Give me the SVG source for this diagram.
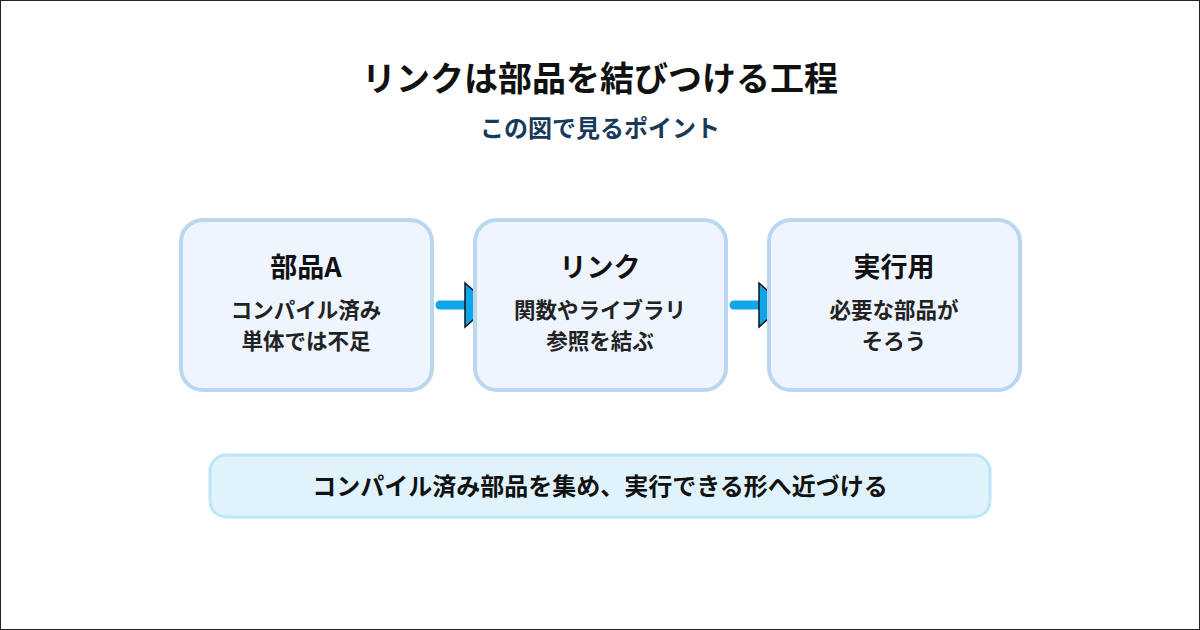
<svg xmlns="http://www.w3.org/2000/svg" width="1200" height="630" viewBox="0 0 1200 630">
<style>
text{font-family:"Noto Sans CJK JP","Noto Sans",sans-serif;text-anchor:middle}
.box{fill:#eef5fe;stroke:#b9d7f0;stroke-width:4}
.h{font-size:27px;font-weight:700;fill:#111}
.b{font-size:21.5px;font-weight:700;fill:#222}
.ln{stroke:#0ea5e9;stroke-width:9;stroke-linecap:round}
.ah{fill:#0ea5e9;stroke:#111;stroke-width:1.5}
</style>
<rect x="0.5" y="0.5" width="1199" height="629" fill="#fff" stroke="#222"/>
<text x="600" y="91" style="font-size:34px;font-weight:700;fill:#111">リンクは部品を結びつける工程</text>
<text x="600" y="137" style="font-size:24px;font-weight:700;fill:#183a5a">この図で見るポイント</text>
<g id="connectors">
<line class="ln" x1="440" y1="305" x2="466" y2="305"/>
<polygon class="ah" points="465,283 490,305 465,327"/>
<line class="ln" x1="734" y1="305" x2="760" y2="305"/>
<polygon class="ah" points="759,283 784,305 759,327"/>
</g>
<g id="nodeA"><rect class="box" x="181" y="220" width="251" height="170" rx="22"/>
<text class="h" x="306" y="277">部品A</text>
<text class="b" x="306" y="318">コンパイル済み</text>
<text class="b" x="306" y="349">単体では不足</text></g>
<g id="nodeLink"><rect class="box" x="475" y="220" width="251" height="170" rx="22"/>
<text class="h" x="600" y="277">リンク</text>
<text class="b" x="600" y="318">関数やライブラリ</text>
<text class="b" x="600" y="349">参照を結ぶ</text></g>
<g id="nodeExec"><rect class="box" x="769" y="220" width="251" height="170" rx="22"/>
<text class="h" x="894" y="277">実行用</text>
<text class="b" x="894" y="318">必要な部品が</text>
<text class="b" x="894" y="349">そろう</text></g>
<g id="summary"><rect x="210" y="455" width="780" height="62" rx="16" fill="#e0f3fc" stroke="#bde6f8" stroke-width="3"/>
<text x="600" y="495" style="font-size:24px;font-weight:700;fill:#111">コンパイル済み部品を集め、実行できる形へ近づける</text></g>
</svg>
